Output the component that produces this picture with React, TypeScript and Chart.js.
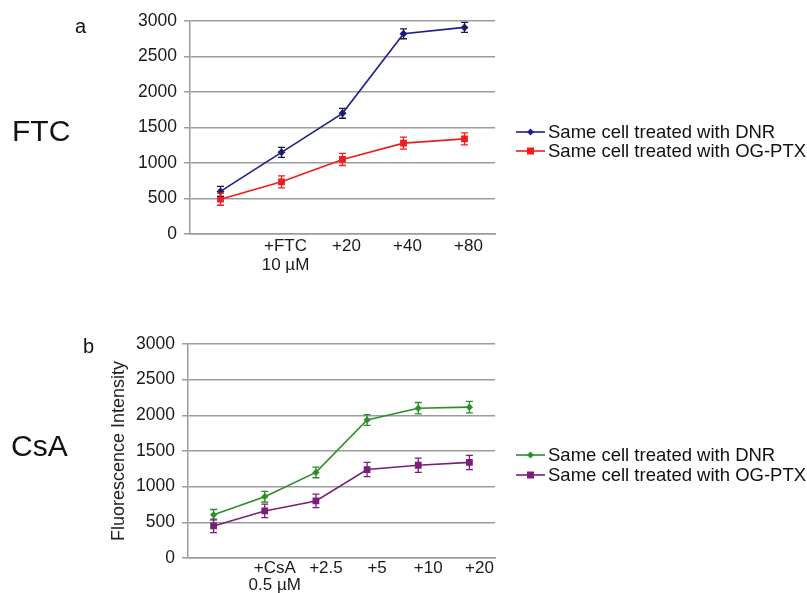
import React, { useEffect, useRef } from "react";
import { Chart, registerables } from "chart.js";

Chart.register(...registerables);

// ---------- data ----------
const labelsA: (string | string[])[] = ["", ["+FTC", "10 µM"], "+20", "+40", "+80"];
const dnrA = [600, 1150, 1700, 2820, 2910];
const dnrAErr = [70, 70, 70, 70, 70];
const ogA = [490, 735, 1050, 1280, 1340];
const ogAErr = [85, 85, 85, 85, 85];

const labelsB: (string | string[])[] = ["", ["+CsA", "0.5 µM"], "+2.5", "+5", "+10", "+20"];
const dnrB = [605, 860, 1200, 1935, 2100, 2115];
const dnrBErr = [75, 75, 75, 75, 80, 80];
const ogB = [450, 660, 800, 1240, 1300, 1340];
const ogBErr = [95, 95, 95, 100, 100, 100];

const yTicks = [0, 500, 1000, 1500, 2000, 2500, 3000];
const seriesNames = ["Same cell treated with DNR", "Same cell treated with OG-PTX"];

const FONT = "'Liberation Sans', Arial, sans-serif";
const BLUE = "#1e1e8e";
const RED = "#f01c1c";
const GREEN = "#2a8f2a";
const PURPLE = "#7a1e7a";
const GRID = "#9c9c9c";

const errorBarPlugin = {
  id: "errorBars",
  afterDatasetsDraw(chart: any) {
    const ctx = chart.ctx;
    const y = chart.scales.y;
    chart.data.datasets.forEach((ds: any, i: number) => {
      const meta = chart.getDatasetMeta(i);
      if (!ds.errors) return;
      ctx.save();
      ctx.strokeStyle = ds.errorColor || ds.borderColor;
      ctx.lineWidth = 1.3;
      meta.data.forEach((pt: any, j: number) => {
        const v = ds.data[j];
        const e = ds.errors[j];
        const top = y.getPixelForValue(v + e);
        const bot = y.getPixelForValue(v - e);
        const x = pt.x;
        ctx.beginPath();
        ctx.moveTo(x, top);
        ctx.lineTo(x, bot);
        ctx.moveTo(x - 3.5, top);
        ctx.lineTo(x + 3.5, top);
        ctx.moveTo(x - 3.5, bot);
        ctx.lineTo(x + 3.5, bot);
        ctx.stroke();
      });
      ctx.restore();
    });
  },
};

function makeConfig(
  labels: (string | string[])[],
  datasets: any[],
  pad: { top: number; right: number; left: number },
  yWidth: number,
  xHeight: number,
  labelOffset: number,
  lineHeight: number,
  tickPad: number,
  title: string | null
): any {
  return {
    type: "line",
    data: { labels, datasets },
    plugins: [errorBarPlugin],
    options: {
      animation: false,
      responsive: false,
      maintainAspectRatio: false,
      layout: { padding: { top: pad.top, right: pad.right, left: pad.left, bottom: 0 } },
      plugins: { legend: { display: false }, tooltip: { enabled: false } },
      scales: {
        x: {
          type: "category",
          offset: true,
          grid: { display: false, drawTicks: false },
          border: { display: true, color: GRID, width: 1.5 },
          ticks: {
            color: "#1a1a1a",
            font: { family: FONT, size: 17, lineHeight },
            maxRotation: 0,
            autoSkip: false,
            padding: tickPad,
            labelOffset,
          },
          afterFit: (s: any) => {
            s.height = xHeight;
          },
        },
        y: {
          min: 0,
          max: 3000,
          afterBuildTicks: (s: any) => {
            s.ticks = yTicks.map((v) => ({ value: v }));
          },
          grid: { color: GRID, lineWidth: 1.5, tickLength: 6 },
          border: { display: true, color: GRID, width: 1.5 },
          ticks: {
            color: "#1a1a1a",
            font: { family: FONT, size: 17.5 },
            padding: 7,
            callback: (v: any) => String(v),
          },
          title: title
            ? {
                display: true,
                text: title,
                color: "#222",
                font: { family: FONT, size: 18 },
                padding: { top: 4, bottom: 4 },
              }
            : { display: false },
          afterFit: (s: any) => {
            s.width = yWidth;
          },
        },
      },
    },
  };
}

function ds(label: string, data: number[], errors: number[], color: string, errColor: string, style: string, r: number) {
  return {
    label,
    data,
    errors,
    errorColor: errColor,
    borderColor: color,
    backgroundColor: color,
    borderWidth: 1.6,
    pointStyle: style,
    pointRadius: r,
    pointBorderWidth: 0,
    pointBackgroundColor: color,
    tension: 0,
  };
}

function ChartCanvas({ config, top, height }: { config: any; top: number; height: number }) {
  const ref = useRef<HTMLCanvasElement | null>(null);
  useEffect(() => {
    if (!ref.current) return;
    const c = new Chart(ref.current, config);
    return () => c.destroy();
  }, []);
  return (
    <canvas
      ref={ref}
      width={807}
      height={height}
      style={{ position: "absolute", left: 0, top, width: 807, height }}
    />
  );
}

function LegendRow({ color, style, y, text }: { color: string; style: "diamond" | "square"; y: number; text: string }) {
  return (
    <div
      style={{
        position: "absolute",
        left: 514,
        top: y - 10,
        height: 20,
        display: "flex",
        alignItems: "center",
        whiteSpace: "nowrap",
      }}
    >
      <svg width={32} height={20} style={{ display: "block" }}>
        <line x1={2} y1={10} x2={31} y2={10} stroke={color} strokeWidth={1.6} />
        {style === "diamond" ? (
          <polygon points="16.5,6.5 20,10 16.5,13.5 13,10" fill={color} />
        ) : (
          <rect x={13} y={6.5} width={7} height={7} fill={color} />
        )}
      </svg>
      <span
        style={{
          marginLeft: 2,
          fontFamily: FONT,
          fontSize: 18.5,
          lineHeight: "20px",
          color: "#111",
        }}
      >
        {text}
      </span>
    </div>
  );
}

const textStyle = (left: number, top: number, size: number): React.CSSProperties => ({
  position: "absolute",
  left,
  top,
  fontFamily: FONT,
  fontSize: size,
  lineHeight: `${size}px`,
  color: "#111",
  whiteSpace: "nowrap",
});

export default function App() {
  const cfgA = makeConfig(
    labelsA,
    [
      ds(seriesNames[0], dnrA, dnrAErr, BLUE, "#1a1a3a", "rectRot", 4),
      ds(seriesNames[1], ogA, ogAErr, RED, RED, "rect", 4.8),
    ],
    { top: 21, right: 312, left: 0 },
    190,
    56,
    4,
    1.1,
    3,
    null
  );
  const cfgB = makeConfig(
    labelsB,
    [
      ds(seriesNames[0], dnrB, dnrBErr, GREEN, GREEN, "rectRot", 3.6),
      ds(seriesNames[1], ogB, ogBErr, PURPLE, PURPLE, "rect", 4.8),
    ],
    { top: 44, right: 312, left: 104 },
    84,
    35,
    10,
    1.0,
    2,
    "Fluorescence Intensity"
  );
  return (
    <div
      style={{
        position: "fixed",
        left: 0,
        top: 0,
        width: 807,
        height: 593,
        background: "#fff",
        overflow: "hidden",
      }}
    >
      <ChartCanvas config={cfgA} top={0} height={290} />
      <ChartCanvas config={cfgB} top={300} height={293} />
      <div style={textStyle(75, 16, 20)}>a</div>
      <div style={textStyle(12, 116, 30)}>FTC</div>
      <div style={textStyle(83, 336, 20)}>b</div>
      <div style={textStyle(11, 431, 30)}>CsA</div>
      <LegendRow color={BLUE} style="diamond" y={131.5} text={seriesNames[0]} />
      <LegendRow color={RED} style="square" y={150.5} text={seriesNames[1]} />
      <LegendRow color={GREEN} style="diamond" y={454.5} text={seriesNames[0]} />
      <LegendRow color={PURPLE} style="square" y={474.5} text={seriesNames[1]} />
    </div>
  );
}
